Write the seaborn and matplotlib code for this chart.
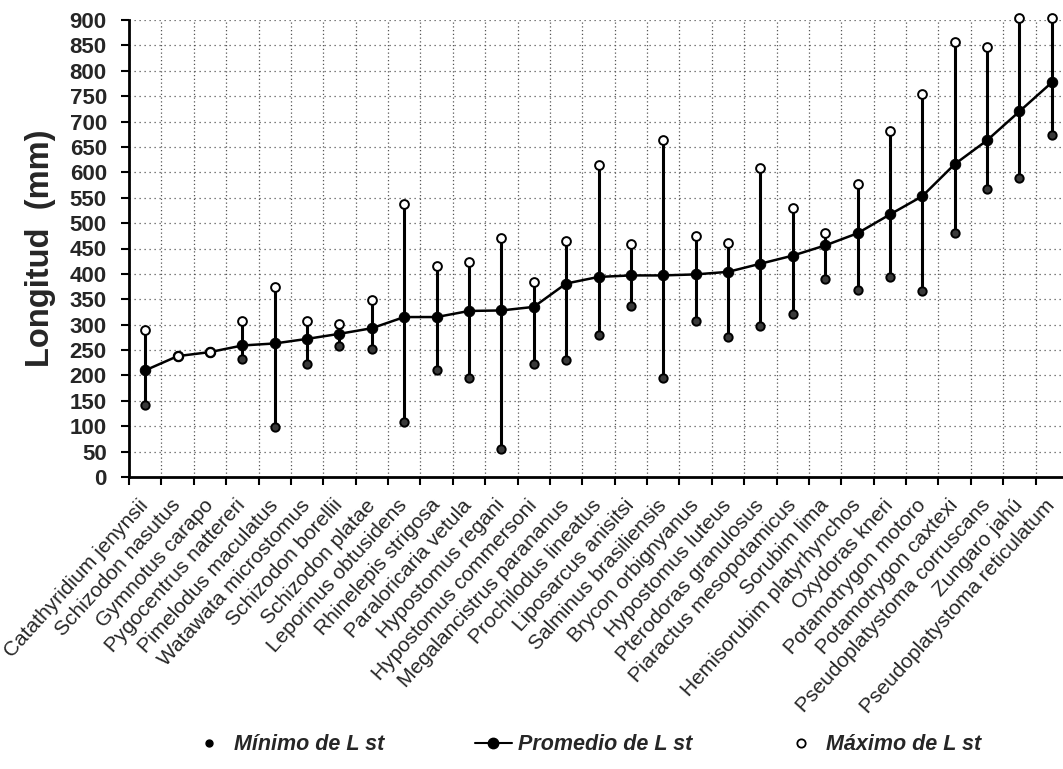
import numpy as np
import pandas as pd
import matplotlib
matplotlib.use("Agg")
import matplotlib.pyplot as plt
import matplotlib.transforms as mtransforms
from matplotlib.lines import Line2D
from matplotlib.ticker import MultipleLocator, FixedLocator
import seaborn as sns

species = [
    "Catathyridium jenynsii", "Schizodon nasutus", "Gymnotus carapo",
    "Pygocentrus nattereri", "Pimelodus maculatus", "Watawata microstomus",
    "Schizodon borellii", "Schizodon platae", "Leporinus obtusidens",
    "Rhinelepis strigosa", "Paraloricaria vetula", "Hypostomus regani",
    "Hypostomus commersoni", "Megalancistrus parananus", "Prochilodus lineatus",
    "Liposarcus anisitsi", "Salminus brasiliensis", "Brycon orbignyanus",
    "Hypostomus luteus", "Pterodoras granulosus", "Piaractus mesopotamicus",
    "Sorubim lima", "Hemisorubim platyrhynchos", "Oxydoras kneri",
    "Potamotrygon motoro", "Potamotrygon caxtexi", "Pseudoplatystoma corruscans",
    "Zungaro jahú", "Pseudoplatystoma reticulatum",
]
minimo = [141, 238, 246, 233, 98, 223, 258, 252, 109, 210, 194, 56, 223, 230,
          280, 337, 194, 308, 275, 298, 321, 389, 368, 394, 367, 480, 567, 589, 673]
promedio = [210, 238, 246, 259, 263, 272, 282, 293, 315, 315, 327, 328, 335, 381,
            394, 397, 397, 399, 404, 420, 436, 456, 480, 517, 553, 616, 663, 720, 777]
maximo = [289, 238, 246, 307, 374, 307, 301, 349, 537, 415, 423, 470, 384, 464,
          615, 458, 664, 475, 461, 608, 529, 481, 578, 681, 755, 857, 847, 903, 903]

df = pd.DataFrame({"especie": species, "pos": np.arange(len(species)),
                   "min": minimo, "mean": promedio, "max": maximo})

sns.set_style("white")
plt.rcParams["font.family"] = ["Liberation Sans", "DejaVu Sans"]

fig = plt.figure(figsize=(10.63, 7.69), dpi=100)
ax = fig.add_axes([129 / 1063, 1 - 477 / 769, (1068 - 129) / 1063, (477 - 20) / 769])

# range bars
ax.vlines(df["pos"], df["min"], df["max"], color="black", lw=2.2, zorder=2)
# mean line
sns.lineplot(data=df, x="pos", y="mean", ax=ax, color="black", lw=1.8,
             marker="o", markersize=7.5, markerfacecolor="black",
             markeredgecolor="black", zorder=3, legend=False)
# minimum markers
sns.scatterplot(data=df, x="pos", y="min", ax=ax, s=36, color="#3a3a3a",
                edgecolor="black", linewidth=1.4, zorder=4, legend=False)
# maximum markers
sns.scatterplot(data=df, x="pos", y="max", ax=ax, s=40, color="white",
                edgecolor="black", linewidth=1.4, zorder=5, legend=False)
for c in ax.collections:
    c.set_clip_on(False)
for l in ax.lines:
    l.set_clip_on(False)

n = len(species)
ax.set_xlim(-0.5, n - 0.5)
ax.set_ylim(0, 900)
ax.yaxis.set_major_locator(MultipleLocator(50))
ax.set_xticks(np.arange(n))
ax.set_xticklabels(species, ha="right", va="center", rotation=48,
                   rotation_mode="anchor", fontsize=15)
shift = mtransforms.ScaledTranslation(0.035, 0, fig.dpi_scale_trans)
for t in ax.get_xticklabels():
    t.set_transform(t.get_transform() + shift)
ax.xaxis.set_minor_locator(FixedLocator(np.arange(n + 1) - 0.5))
ax.tick_params(axis="x", which="major", length=0, pad=18)
ax.tick_params(axis="x", which="minor", length=6, width=1.5, direction="out",
               color="black", bottom=True)
ax.tick_params(axis="y", which="major", length=6, width=1.5, direction="out",
               color="black", left=True, labelsize=16, pad=10)
for t in ax.get_yticklabels():
    t.set_fontweight("bold")

ax.grid(False)
ax.grid(True, axis="y", which="major", color="#555555", lw=0.9,
        linestyle=(0, (1, 3)))
ax.grid(True, axis="x", which="minor", color="#555555", lw=0.9,
        linestyle=(0, (1, 2)))

for s in ["top", "right"]:
    ax.spines[s].set_visible(False)
for s in ["left", "bottom"]:
    ax.spines[s].set_color("black")
    ax.spines[s].set_linewidth(2)

ax.set_xlabel("")
ax.set_ylabel("Longitud  (mm)", fontsize=23.5, fontweight="bold", labelpad=10)

handles = [
    Line2D([], [], linestyle="none", marker="o", markersize=5,
           markerfacecolor="black", markeredgecolor="black"),
    Line2D([], [], color="black", lw=1.5, marker="o", markersize=7.5,
           markerfacecolor="black"),
    Line2D([], [], linestyle="none", marker="o", markersize=6,
           markerfacecolor="white", markeredgecolor="black", markeredgewidth=1.3),
]
labels = ["Mínimo de L st", "Promedio de L st", "Máximo de L st"]
ax.legend(handles, labels, ncol=3, loc="center", bbox_to_anchor=(586 / 1063, 1 - 745 / 769),
          bbox_transform=fig.transFigure, frameon=False, handlelength=1.7,
          handletextpad=0.3, columnspacing=4.2,
          prop={"family": "Liberation Sans", "weight": "bold", "style": "italic",
                "size": 15.5})

fig.savefig("out.png", dpi=100)
